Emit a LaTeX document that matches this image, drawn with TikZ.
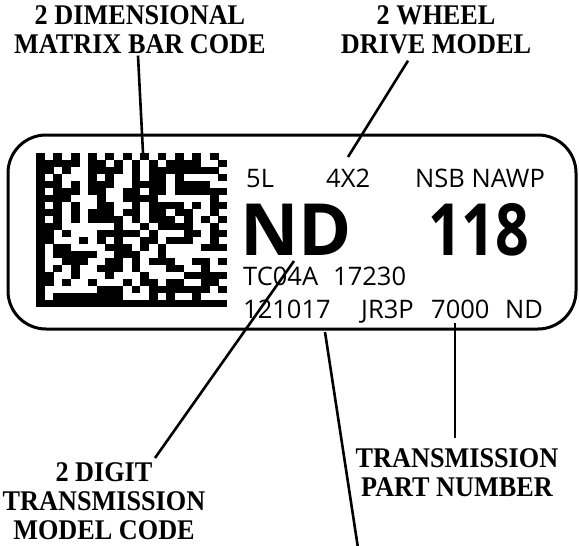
\documentclass[tikz,border=0pt]{standalone}
\usepackage{fontspec}
\setmainfont{Liberation Serif}
\newfontfamily\calloutfont{Liberation Serif}[FakeStretch=0.92]
\newfontfamily\tagfont{Open Sans}
\newfontfamily\numfont{Open Sans}[FakeStretch=0.82]
\usetikzlibrary{positioning,calc}

\tikzset{
  callout/.style={font=\calloutfont\bfseries\fontsize{28.5}{29}\selectfont, align=center, inner sep=0pt, anchor=north},
  tagtext/.style={font=\tagfont\fontsize{25.5}{25.5}\selectfont, inner sep=0pt, anchor=base west},
  bigtag/.style={font=\tagfont\bfseries\fontsize{72}{72}\selectfont, inner sep=0pt, anchor=base west},
  leader/.style={line width=2.6pt},
}

\begin{document}
\begin{tikzpicture}[x=1pt,y=-1pt]
    \useasboundingbox (0,0) rectangle (579,546);

    % label outline
    \draw[line width=3pt,rounded corners=38pt] (8,135) rectangle (576,329);

    % matrix bar code, 22 x 22 modules
    \pgfmathsetseed{4217}
    \foreach \col in {0,...,21}{
      \foreach \row in {0,...,21}{
        \pgfmathtruncatemacro{\bit}{(\col==0||\row==21)?1:((\row==0)?(1-mod(\col,2)):((\col==21)?mod(\row,2):(rnd>0.47)))}
        \ifnum\bit=1
          \fill (36+\col*8.682,153+\row*7) rectangle ++(8.95,7.3);
        \fi
      }
    }

    % printed text
    \node[tagtext] (fiveL) at (246,187) {5L};
    \node[tagtext] (wheels) at (326,187) {4X2};
    \node[tagtext] (nsb) at (415,187) {NSB NAWP};
    \node[bigtag] (model) at (240,255) {ND};
    \node[bigtag,font=\numfont\bfseries\fontsize{72}{72}\selectfont] (num) at (428,255) {118};
    \node[tagtext] (tcode) at (243,285) {TC04A};
    \node[tagtext] (serial) at (333,285) {17230};
    \node[tagtext] (date) at (243,318) {121017};
    \node[tagtext] (jr) at (361,318) {JR3P};
    \node[tagtext] (part) at (431,318) {7000};
    \node[tagtext] (nd) at (505,318) {ND};

    % callouts
    \node[callout] (lblMatrix) at (140,5) {2 DIMENSIONAL\\MATRIX BAR CODE};
    \node[callout] (lblDrive) at (436,5) {2 WHEEL\\DRIVE MODEL};
    \node[callout] (lblDigit) at (104,462) {2 DIGIT\\TRANSMISSION\\MODEL CODE};
    \node[callout] (lblPart) at (457,448) {TRANSMISSION\\PART NUMBER};

    \coordinate (codeTop) at (143,153);
    \coordinate (driveTip) at (348,157);
    \coordinate (modelTip) at (294,261);
    \coordinate (dateTip) at (325,332);
    \coordinate (offPage) at (358,548);
    \coordinate (partTip) at (455,323);

    \draw[leader] ([xshift=-2pt,yshift=-2pt]lblMatrix.south) -- (codeTop);
    \draw[leader] ([xshift=-28pt,yshift=-7pt]lblDrive.south) -- (driveTip);
    \draw[leader] ([xshift=51pt,yshift=4pt]lblDigit.north) -- (modelTip);
    \draw[leader] (dateTip) -- (offPage);
    \draw[leader] ([xshift=-2pt,yshift=10pt]lblPart.north) -- (partTip);
\end{tikzpicture}
\end{document}
